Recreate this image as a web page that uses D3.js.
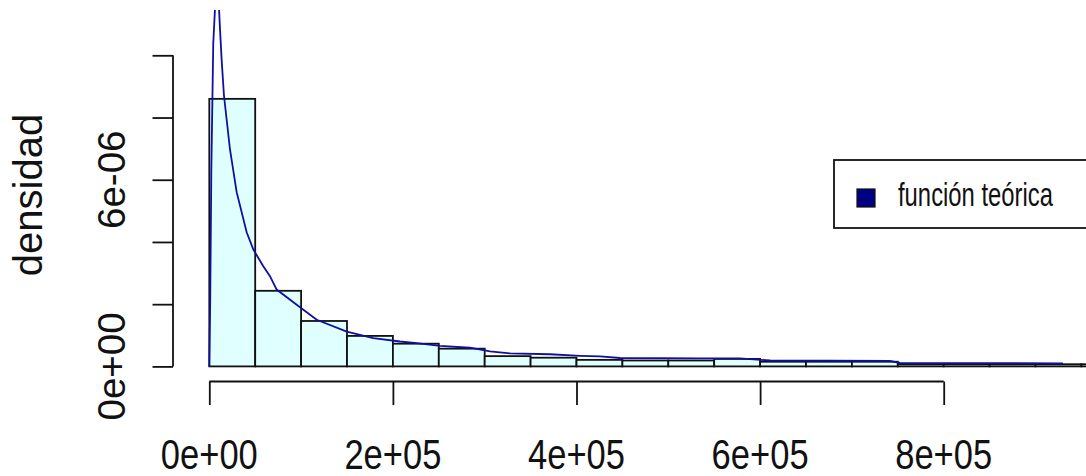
<!DOCTYPE html>
<html>
<head>
<meta charset="utf-8">
<script src="https://cdn.jsdelivr.net/npm/d3@7"></script>
<style>
  html, body { margin: 0; padding: 0; background: #ffffff; }
  svg { display: block; font-family: "Liberation Sans", Arial, sans-serif; }
</style>
</head>
<body>
<svg id="chart" width="1086" height="476"></svg>
<script>
// Histogram bin edges (income values)
const binEdges = [0, 50000, 100000, 150000, 200000, 250000, 300000, 350000, 400000,
  450000, 500000, 550000, 600000, 650000, 700000, 750000, 800000, 850000, 900000,
  950000, 1000000];

// Observed density per bin
const binDensity = [8.6e-6, 2.43e-6, 1.46e-6, 0.98e-6, 0.73e-6, 0.57e-6, 0.33e-6,
  0.28e-6, 0.21e-6, 0.19e-6, 0.19e-6, 0.24e-6, 0.15e-6, 0.15e-6, 0.15e-6,
  0.07e-6, 0.07e-6, 0.07e-6, 0.07e-6, 0.07e-6];

// Theoretical density curve evaluated along the sample
const curveX = [0, 1000, 2200, 4300, 6200, 8500, 10600, 11650, 13500, 16000, 22500,
  29800, 40700, 47900, 58800, 66100, 73400, 95200, 117000, 149700, 178600, 207700,
  225900, 251300, 284000, 305700, 327500, 371000, 403800, 425600, 447400, 534600,
  578000, 610800, 741500, 752300, 930000];
const curveY = [0, 2.1e-6, 6.27e-6, 10.37e-6, 11.5e-6, 12.2e-6, 11.5e-6, 10.85e-6,
  9.83e-6, 8.70e-6, 6.98e-6, 5.60e-6, 4.31e-6, 3.76e-6, 3.22e-6, 2.90e-6, 2.47e-6,
  1.98e-6, 1.50e-6, 1.12e-6, 0.91e-6, 0.80e-6, 0.75e-6, 0.66e-6, 0.60e-6, 0.48e-6,
  0.42e-6, 0.39e-6, 0.34e-6, 0.32e-6, 0.27e-6, 0.26e-6, 0.26e-6, 0.19e-6, 0.18e-6,
  0.11e-6, 0.10e-6];

// Axis ticks and labels
const xTicks = [0, 200000, 400000, 600000, 800000];
const xTickLabels = ["0e+00", "2e+05", "4e+05", "6e+05", "8e+05"];
const yTicks = [0, 2e-6, 4e-6, 6e-6, 8e-6, 1e-5];
const yTickLabels = ["0e+00", "", "", "6e-06", "", ""];

const yTitle = "densidad";
const legendLabel = "función teórica";

const svg = d3.select("#chart");

const x = d3.scaleLinear().domain([0, 1000000]).range([209.3, 1127.3]);
const y = d3.scaleLinear().domain([0, 1e-5]).range([366.4, 55.3]);

// plotting region
const plot = { left: 173, top: 10, right: 1150, bottom: 381.5 };
svg.append("defs").append("clipPath").attr("id", "plotclip")
  .append("rect")
  .attr("x", plot.left).attr("y", plot.top)
  .attr("width", plot.right - plot.left).attr("height", plot.bottom - plot.top);

const g = svg.append("g").attr("clip-path", "url(#plotclip)");

// histogram bars
g.selectAll("rect.bar")
  .data(binDensity)
  .join("rect")
  .attr("class", "bar")
  .attr("x", (d, i) => x(binEdges[i]))
  .attr("width", (d, i) => x(binEdges[i + 1]) - x(binEdges[i]))
  .attr("y", d => y(d))
  .attr("height", d => y(0) - y(d))
  .attr("fill", "#E0FFFF")
  .attr("stroke", "#111")
  .attr("stroke-width", 1.8);

// theoretical density
const line = d3.line()
  .x((d, i) => x(curveX[i]))
  .y(d => y(d));
g.append("path")
  .datum(curveY)
  .attr("d", line)
  .attr("fill", "none")
  .attr("stroke", "#1010A0")
  .attr("stroke-width", 1.8);

// y axis
const yAxis = d3.axisLeft(y)
  .tickValues(yTicks)
  .tickSize(20.5)
  .tickSizeOuter(0)
  .tickFormat("");
const ya = svg.append("g").attr("transform", `translate(${plot.left},0)`).call(yAxis);
ya.select(".domain").attr("stroke", "#111").attr("stroke-width", 1.8)
  .attr("d", `M0,${y(0)}V${y(1e-5)}`);
ya.selectAll(".tick line").attr("stroke", "#111").attr("stroke-width", 1.8);

svg.append("g").selectAll("text")
  .data(yTicks)
  .join("text")
  .attr("transform", d => `translate(125,${y(d)}) rotate(-90)`)
  .attr("text-anchor", "middle")
  .attr("font-size", 38.5)
  .attr("fill", "#111")
  .text((d, i) => yTickLabels[i]);

// x axis
const xAxis = d3.axisBottom(x)
  .tickValues(xTicks)
  .tickSize(23.5)
  .tickSizeOuter(0)
  .tickFormat("");
const xa = svg.append("g").attr("transform", `translate(0,${plot.bottom})`).call(xAxis);
xa.select(".domain").attr("stroke", "#111").attr("stroke-width", 1.8)
  .attr("d", `M${x(0)},0H${x(800000)}`);
xa.selectAll(".tick line").attr("stroke", "#111").attr("stroke-width", 1.8);

svg.append("g").selectAll("text")
  .data(xTicks)
  .join("text")
  .attr("x", d => x(d))
  .attr("y", 469.3)
  .attr("text-anchor", "middle")
  .attr("font-size", 43)
  .attr("textLength", 97)
  .attr("lengthAdjust", "spacingAndGlyphs")
  .attr("fill", "#111")
  .text((d, i) => xTickLabels[i]);

// y axis title
svg.append("text")
  .attr("transform", "translate(41.5,195) rotate(-90)")
  .attr("text-anchor", "middle")
  .attr("font-size", 40)
  .attr("fill", "#111")
  .text(yTitle);

// legend
const lg = svg.append("g");
lg.append("rect")
  .attr("x", 834).attr("y", 160).attr("width", 300).attr("height", 68)
  .attr("fill", "#fff").attr("stroke", "#111").attr("stroke-width", 1.8);
lg.append("rect")
  .attr("x", 857).attr("y", 189).attr("width", 18).attr("height", 18)
  .attr("fill", "#000080").attr("stroke", "#111").attr("stroke-width", 1.2);
lg.append("text")
  .attr("x", 898).attr("y", 206)
  .attr("font-size", 33)
  .attr("textLength", 155)
  .attr("lengthAdjust", "spacingAndGlyphs")
  .attr("fill", "#111")
  .text(legendLabel);
</script>
</body>
</html>
